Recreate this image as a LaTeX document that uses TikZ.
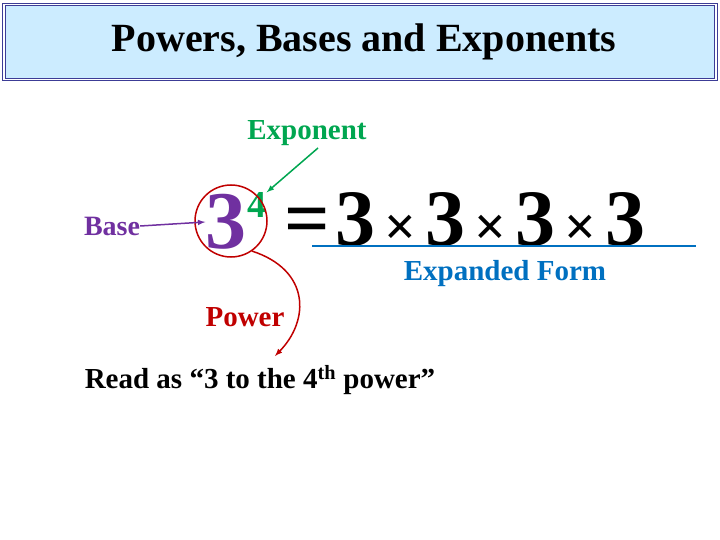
\documentclass[tikz,border=0pt]{standalone}
\usepackage{fontspec}
\setmainfont{Liberation Serif}
\definecolor{tblue}{RGB}{204,236,255}
\definecolor{navy}{RGB}{60,60,150}
\definecolor{gr}{RGB}{0,166,80}
\definecolor{pu}{RGB}{112,48,160}
\definecolor{rd}{RGB}{192,0,0}
\definecolor{bl}{RGB}{0,112,192}
\newcommand{\tms}{\kern9pt{\fontsize{56}{56}\selectfont×}\kern9pt}
\begin{document}
\begin{tikzpicture}[x=1pt,y=-1pt,font=\bfseries,
 lab/.style={inner sep=0pt,font=\fontsize{29}{34}\selectfont\bfseries},
 arr/.style={-latex,line width=1.5pt}]
\useasboundingbox (0,0) rectangle (720,540);
\node[draw=navy,line width=1.2pt,fill=tblue,minimum width=712pt,minimum height=75pt,inner sep=0pt,double=white,double distance=1.5pt] (title) at (360,42) {};
\node[inner sep=0pt,font=\fontsize{40}{44}\selectfont\bfseries] (tt) at (364,42) {Powers, Bases and Exponents};
\node[lab,text=gr] (exp) at (307,133) {Exponent};
\node[lab,text=pu,font=\fontsize{28}{32}\selectfont\bfseries] (base) at (112,226) {Base};
\node[inner sep=0pt,text=pu,font=\fontsize{82}{86}\selectfont\bfseries] (three) at (226,222) {3};
\node[inner sep=0pt,text=gr,font=\fontsize{38}{42}\selectfont\bfseries] (four) at (257,205) {4};
\node[draw=rd,line width=1.5pt,circle,minimum size=72pt,inner sep=0pt] (circ) at (231,221) {};
\node[inner sep=0pt,font=\fontsize{80}{84}\selectfont\bfseries,anchor=base west] (eq) at (284,245) {=\kern6pt3\tms3\tms3\tms3};
\coordinate (u1) at (312,246); \coordinate (u2) at (696,246);
\draw[bl,line width=2.5pt] (u1) -- (u2);
\node[lab,text=bl] (ef) at (505,274) {Expanded Form};
\node[lab,text=rd] (pow) at (245,317) {Power};
\node[lab] (read) at (260,380) {Read as “3 to the 4\textsuperscript{th} power”};
\draw[arr,pu] (base.east) -- (three.west);
\coordinate (es) at (318,148);
\draw[arr,gr] (es) -- (four.north east);
\coordinate (pe) at (275,356);
\draw[arr,rd] (circ.-55) .. controls (310,270) and (310,320) .. (pe);
\end{tikzpicture}
\end{document}
